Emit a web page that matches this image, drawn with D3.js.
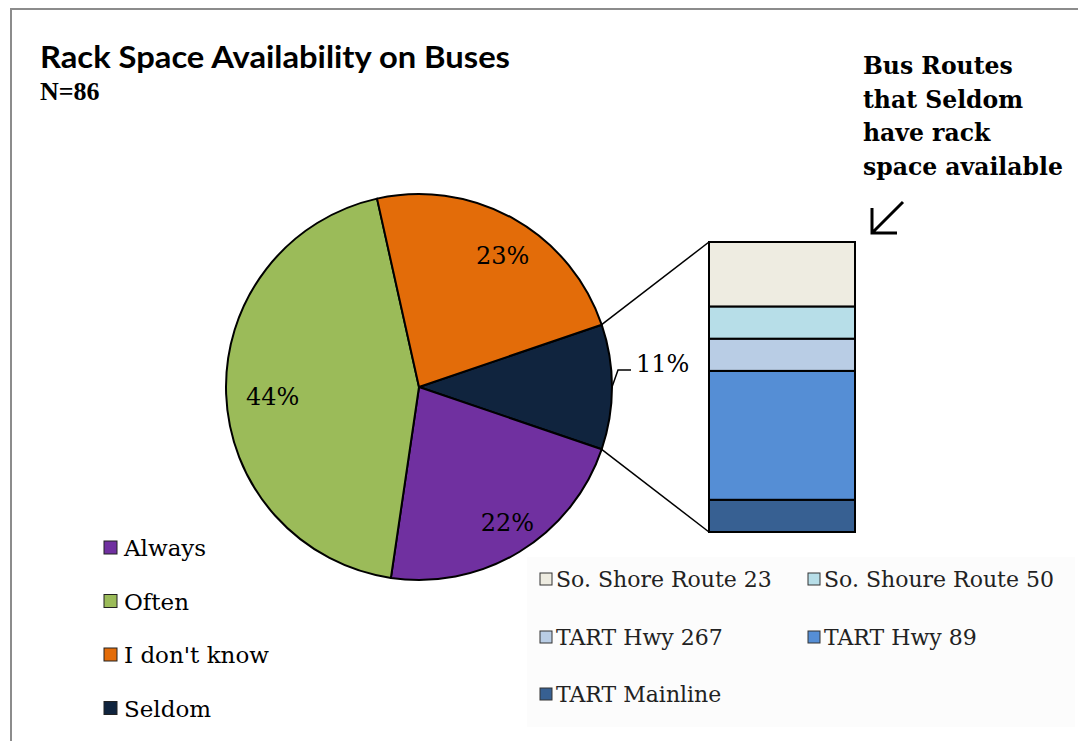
<!DOCTYPE html>
<html>
<head>
<meta charset="utf-8">
<script src="https://cdn.jsdelivr.net/npm/d3@7"></script>
<style>
  body { margin: 0; background: #fff; }
  svg { display: block; }
</style>
</head>
<body>
<svg width="1078" height="741"></svg>
<script>
const width = 1078;
const height = 741;

// Main pie: responses (N=86) and the printed labels
const categories = ["Seldom", "Always", "Often", "I don't know"];
const sliceCounts = [9, 19, 38, 20];
const sliceLabels = ["11%", "22%", "44%", "23%"];
const sliceColors = ["#10243e", "#7030a0", "#9bbb59", "#e36c09"];
const legendOrder = ["Always", "Often", "I don't know", "Seldom"];

// Secondary bar: routes among the "Seldom" answers (top to bottom)
const routes = ["So. Shore Route 23", "So. Shoure Route 50", "TART Hwy 267", "TART Hwy 89", "TART Mainline"];
const routeCounts = [2, 1, 1, 4, 1];
const routeColors = ["#eeece1", "#b7dee8", "#b9cde5", "#558ed5", "#376092"];

const svg = d3.select("svg");

// frame
svg.append("path")
    .attr("d", `M11,${height} L11,9 L${width},9`)
    .attr("fill", "none")
    .attr("stroke", "#8c8c8c")
    .attr("stroke-width", 2);

// Title
svg.append("text")
    .attr("x", 40)
    .attr("y", 68)
    .attr("font-family", "Lato, 'Open Sans', sans-serif")
    .attr("font-weight", "bold")
    .attr("font-size", "30px")
    .attr("textLength", 470)
    .attr("lengthAdjust", "spacingAndGlyphs")
    .text("Rack Space Availability on Buses");

svg.append("text")
    .attr("x", 40)
    .attr("y", 100)
    .attr("font-family", "'Liberation Serif', serif")
    .attr("font-weight", "bold")
    .attr("font-size", "26px")
    .text("N=86");

// Pie
const cx = 419, cy = 387, r = 193;
const seldomSpan = 2 * Math.PI * sliceCounts[0] / d3.sum(sliceCounts);
const start = Math.PI / 2 - seldomSpan / 2;

const pie = d3.pie()
    .sort(null)
    .value(d => d)
    .startAngle(start)
    .endAngle(start + 2 * Math.PI);
const arcs = pie(sliceCounts);

const arc = d3.arc().innerRadius(0).outerRadius(r);
const labelArc = d3.arc().innerRadius(r * 0.8).outerRadius(r * 0.8);

const gPie = svg.append("g").attr("transform", `translate(${cx},${cy})`);

gPie.selectAll("path")
    .data(arcs)
    .enter().append("path")
    .attr("d", arc)
    .attr("fill", (d, i) => sliceColors[i])
    .attr("stroke", "#000")
    .attr("stroke-width", 2)
    .attr("stroke-linejoin", "round");

// inside labels (all but Seldom)
gPie.selectAll("text.inlabel")
    .data(arcs.slice(1))
    .enter().append("text")
    .attr("class", "inlabel")
    .attr("x", d => labelArc.centroid(d)[0] + 8)
    .attr("y", d => labelArc.centroid(d)[1] + 12)
    .attr("text-anchor", "middle")
    .attr("font-family", "'DejaVu Serif', serif")
    .attr("font-size", "24px")
    .attr("fill", "#000")
    .text((d, i) => sliceLabels[i + 1]);

// Seldom label with leader
const sel = arcs[0];
const mid = (sel.startAngle + sel.endAngle) / 2;
const pt = (a, rr) => [rr * Math.sin(a), -rr * Math.cos(a)];
const p0 = pt(mid, r);
gPie.append("path")
    .attr("d", `M${p0[0]},${p0[1]} L${p0[0] + 6},${p0[1] - 17} L${p0[0] + 19},${p0[1] - 17}`)
    .attr("fill", "none")
    .attr("stroke", "#000")
    .attr("stroke-width", 1.5);
gPie.append("text")
    .attr("x", p0[0] + 24)
    .attr("y", p0[1] - 15)
    .attr("font-family", "'DejaVu Serif', serif")
    .attr("font-size", "24px")
    .text(sliceLabels[0]);

// Secondary stacked bar
const barX = 709, barW = 146;
const yBar = d3.scaleLinear()
    .domain([0, d3.sum(routeCounts)])
    .range([532, 242]);

let acc = 0;
const stackData = routes.map((name, i) => ({name, v: routeCounts[i], color: routeColors[i]})).reverse()
    .map(d => { const o = {...d, y0: acc, y1: acc + d.v}; acc += d.v; return o; });

// connector lines from the Seldom slice to the bar
const pTop = pt(sel.startAngle, r);
const pBot = pt(sel.endAngle, r);
svg.append("line")
    .attr("x1", cx + pTop[0]).attr("y1", cy + pTop[1])
    .attr("x2", barX).attr("y2", yBar(d3.sum(routeCounts)))
    .attr("stroke", "#000").attr("stroke-width", 1.5);
svg.append("line")
    .attr("x1", cx + pBot[0]).attr("y1", cy + pBot[1])
    .attr("x2", barX).attr("y2", yBar(0))
    .attr("stroke", "#000").attr("stroke-width", 1.5);

svg.append("g").selectAll("rect")
    .data(stackData)
    .enter().append("rect")
    .attr("x", barX)
    .attr("y", d => yBar(d.y1))
    .attr("width", barW)
    .attr("height", d => yBar(d.y0) - yBar(d.y1))
    .attr("fill", d => d.color)
    .attr("stroke", "#000")
    .attr("stroke-width", 2);

// Annotation
const noteLines = ["Bus Routes", "that Seldom", "have rack", "space available"];
svg.append("g").selectAll("text")
    .data(noteLines)
    .enter().append("text")
    .attr("x", 863)
    .attr("y", (d, i) => 74 + i * 33.5)
    .attr("font-family", "'DejaVu Serif', serif")
    .attr("font-weight", "bold")
    .attr("font-size", "23.5px")
    .text(d => d);

// arrow
svg.append("path")
    .attr("d", "M903,202 L873,232 M872,208 L872,233 L897,233")
    .attr("fill", "none")
    .attr("stroke", "#000")
    .attr("stroke-width", 3);

// Left legend
const legL = svg.append("g");
legendOrder.forEach((name, i) => {
    const idx = categories.indexOf(name);
    const y = 556 + i * 53.5;
    legL.append("rect")
        .attr("x", 104).attr("y", y - 15)
        .attr("width", 13).attr("height", 13)
        .attr("fill", sliceColors[idx])
        .attr("stroke", "#222").attr("stroke-width", 1);
    legL.append("text")
        .attr("x", 124).attr("y", y)
        .attr("font-family", "'DejaVu Serif', serif")
        .attr("font-size", "23px")
        .text(name);
});

// Bottom legend
svg.append("rect")
    .attr("x", 527).attr("y", 557)
    .attr("width", 548).attr("height", 170)
    .attr("fill", "#fcfcfc");
const legB = svg.append("g");
routes.forEach((name, i) => {
    const col = i % 2, row = Math.floor(i / 2);
    const x = col === 0 ? 540 : 808;
    const y = [587, 645, 702][row];
    legB.append("rect")
        .attr("x", x).attr("y", y - 14)
        .attr("width", 12).attr("height", 12)
        .attr("fill", routeColors[i])
        .attr("stroke", "#333").attr("stroke-width", 1);
    legB.append("text")
        .attr("x", x + 16).attr("y", y)
        .attr("font-family", "'DejaVu Serif', serif")
        .attr("font-size", "22px")
        .attr("fill", "#222")
        .text(name);
});
</script>
</body>
</html>
